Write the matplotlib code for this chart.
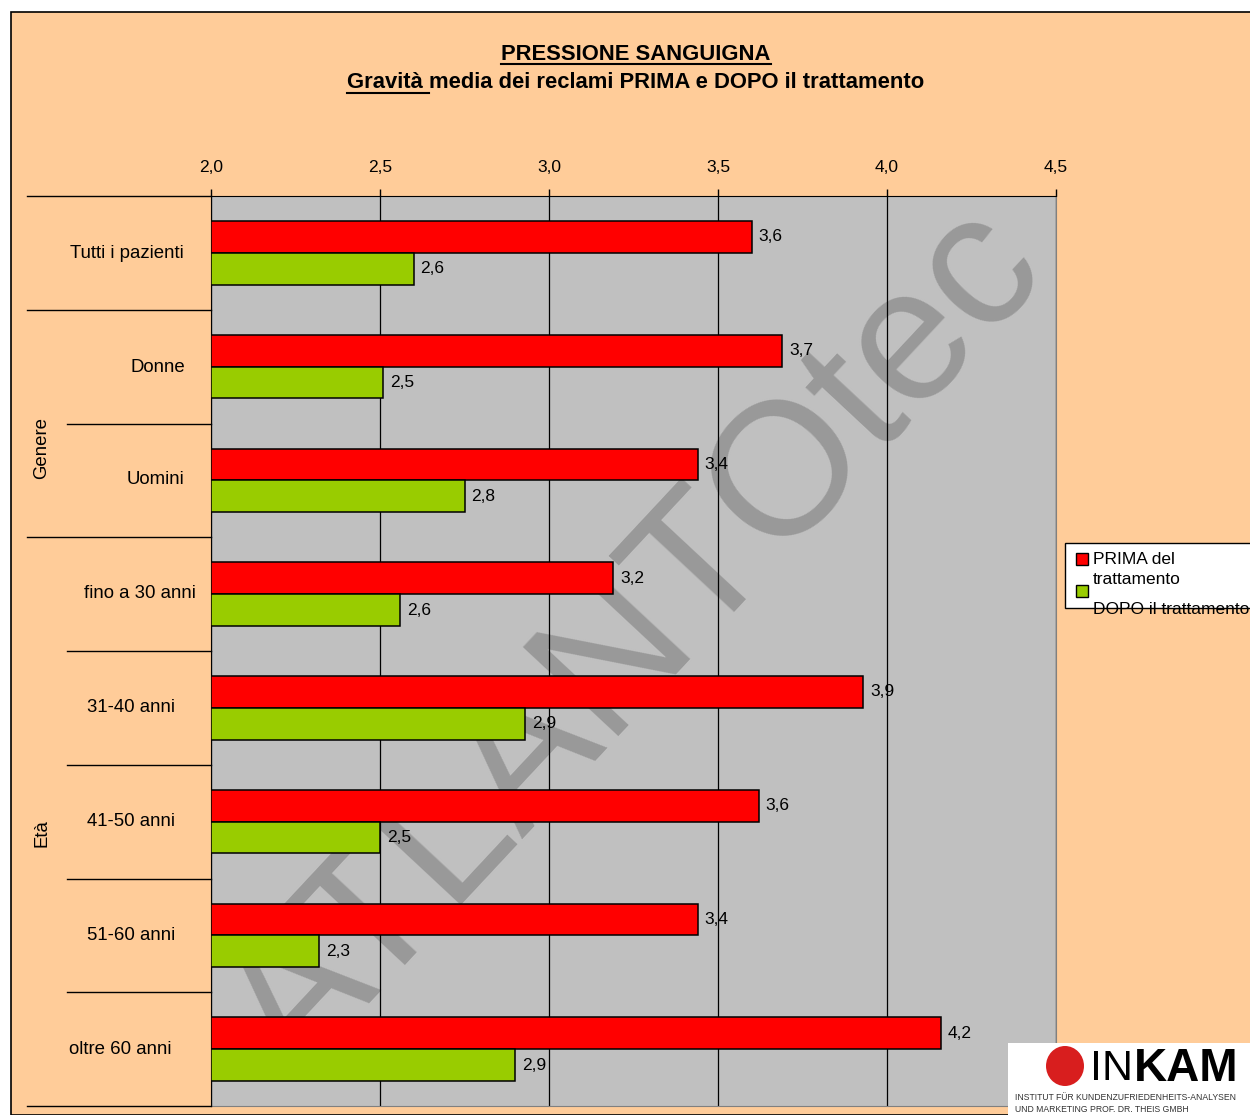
import matplotlib
matplotlib.use("Agg")
import matplotlib.pyplot as plt
from matplotlib.lines import Line2D
from matplotlib.patches import Rectangle, Ellipse

plt.rcParams["font.family"] = ["Liberation Sans", "DejaVu Sans"]

# data
categories = ["Tutti i pazienti", "Donne", "Uomini", "fino a 30 anni",
              "31-40 anni", "41-50 anni", "51-60 anni", "oltre 60 anni"]
prima = [3.60, 3.69, 3.44, 3.19, 3.93, 3.62, 3.44, 4.16]
dopo = [2.60, 2.51, 2.75, 2.56, 2.93, 2.50, 2.32, 2.90]
groups = ["Genere", "Età"]
xticks = [2.0, 2.5, 3.0, 3.5, 4.0, 4.5]

W, H = 1250, 1115
peach = "#FFCC99"
red = "#FF0000"
green = "#99CC00"


def fx(x):
    return x / W


def fy(y):
    return 1 - y / H


fig = plt.figure(figsize=(W / 100, H / 100), dpi=100)
fig.patch.set_facecolor("white")

# outer chart area
fig.patches.append(Rectangle((fx(11), 0), 1, fy(12), transform=fig.transFigure,
                             facecolor=peach, edgecolor="black", lw=1.2, zorder=-5))

ax = fig.add_axes([fx(211), fy(1106), fx(1056) - fx(211), fy(196) - fy(1106)])
ax.set_facecolor("#C0C0C0")

y = list(range(len(categories)))
bh = 0.28
ax.barh([i - bh / 2 for i in y], [v - 2 for v in prima], left=2, height=bh,
        color=red, edgecolor="black", lw=1.1, zorder=3, label="PRIMA del trattamento")
ax.barh([i + bh / 2 for i in y], [v - 2 for v in dopo], left=2, height=bh,
        color=green, edgecolor="black", lw=1.1, zorder=3, label="DOPO il trattamento")

for i in y:
    ax.text(prima[i] + 0.02, i - bh / 2, f"{prima[i]:.1f}".replace(".", ","),
            va="center", ha="left", fontsize=12.5, zorder=5)
    ax.text(dopo[i] + 0.02, i + bh / 2, f"{dopo[i]:.1f}".replace(".", ","),
            va="center", ha="left", fontsize=12.5, zorder=5)

ax.set_xlim(2.0, 4.5)
ax.set_ylim(len(categories) - 0.5, -0.5)
ax.set_xticks(xticks)
ax.set_xticklabels([f"{t:.1f}".replace(".", ",") for t in xticks], fontsize=12.5)
ax.xaxis.tick_top()
ax.tick_params(axis="x", direction="out", length=5, width=1, pad=10)
ax.set_yticks([])
ax.grid(axis="x", color="black", lw=0.9)
ax.set_axisbelow(True)
for s in ["left", "top"]:
    ax.spines[s].set_color("black")
ax.spines["right"].set_color("#808080")
ax.spines["bottom"].set_color("#808080")

# watermark behind grid and bars
ax.text(0.505, 0.508, "ATLANTOtec", transform=ax.transAxes, rotation=47,
        ha="center", va="center", rotation_mode="anchor", fontsize=136,
        color="#999999", zorder=0.2, clip_on=False)

# category separators
for yy in [196, 310, 537, 1106]:
    fig.add_artist(Line2D([fx(27), fx(211)], [fy(yy), fy(yy)], color="black", lw=1))
for yy in [424, 651, 765, 879, 992]:
    fig.add_artist(Line2D([fx(67), fx(211)], [fy(yy), fy(yy)], color="black", lw=1))

label_x = [127, 158, 155, 140, 131, 131, 131, 120]
row_y = [253, 367, 480, 594, 708, 822, 935, 1049]
for name, lx, ly in zip(categories, label_x, row_y):
    fig.text(fx(lx), fy(ly), name, ha="center", va="center", fontsize=13.4)
fig.text(fx(42), fy(448), groups[0], rotation=90, ha="center", va="center", fontsize=13.4)
fig.text(fx(42), fy(833), groups[1], rotation=90, ha="center", va="center", fontsize=13.4)

# titles with underline
t1 = fig.text(fx(636), fy(54), "PRESSIONE SANGUIGNA", ha="center", va="center",
              fontsize=15.8, fontweight="bold")
t2 = fig.text(fx(636), fy(83), "Gravità media dei reclami PRIMA e DOPO il trattamento",
              ha="center", va="center", fontsize=15.8, fontweight="bold")
fig.canvas.draw()
r = fig.canvas.get_renderer()
b1 = t1.get_window_extent(r)
fig.add_artist(Line2D([b1.x0 / W, b1.x1 / W], [(b1.y0 + 1) / H, (b1.y0 + 1) / H],
                      color="black", lw=1.5))
b2 = t2.get_window_extent(r)
tmp = fig.text(0, 0, "Gravità ", fontsize=15.8, fontweight="bold")
wg = tmp.get_window_extent(r).width
tmp.remove()
fig.add_artist(Line2D([b2.x0 / W, (b2.x0 + wg) / W], [(b2.y0 + 1) / H, (b2.y0 + 1) / H],
                      color="black", lw=1.5))

# legend
fig.patches.append(Rectangle((fx(1065), fy(608)), fx(1260) - fx(1065), fy(543) - fy(608),
                             transform=fig.transFigure, facecolor="white",
                             edgecolor="black", lw=1, zorder=2))
fig.patches.append(Rectangle((fx(1076), fy(565)), 12 / W, 12 / H, transform=fig.transFigure,
                             facecolor=red, edgecolor="black", lw=1, zorder=3))
fig.patches.append(Rectangle((fx(1076), fy(597)), 12 / W, 12 / H, transform=fig.transFigure,
                             facecolor=green, edgecolor="black", lw=1, zorder=3))
fig.text(fx(1093), fy(559), "PRIMA del", va="center", fontsize=12.5, zorder=4)
fig.text(fx(1093), fy(579), "trattamento", va="center", fontsize=12.5, zorder=4)
fig.text(fx(1093), fy(610), "DOPO il trattamento", va="center", fontsize=12.5, zorder=4)

# logo box
fig.patches.append(Rectangle((fx(1008), 0), fx(1260) - fx(1008), fy(1043),
                             transform=fig.transFigure, facecolor="white",
                             edgecolor="none", zorder=2))
fig.patches.append(Ellipse((fx(1065), fy(1066)), 38 / W, 40 / H, transform=fig.transFigure,
                           facecolor="#D81E1E", edgecolor="none", zorder=3))
fig.text(fx(1090), fy(1069), "IN", va="center", fontsize=31, color="black", zorder=4)
fig.text(fx(1134), fy(1069), "KAM", va="center", fontsize=33, fontweight="bold",
         color="black", zorder=4)
fig.text(fx(1015), fy(1097), "INSTITUT FÜR KUNDENZUFRIEDENHEITS-ANALYSEN",
         va="center", fontsize=6.2, color="#333333", zorder=4)
fig.text(fx(1015), fy(1109), "UND MARKETING PROF. DR. THEIS GMBH",
         va="center", fontsize=6.2, color="#333333", zorder=4)

fig.savefig("out.png", dpi=100)
